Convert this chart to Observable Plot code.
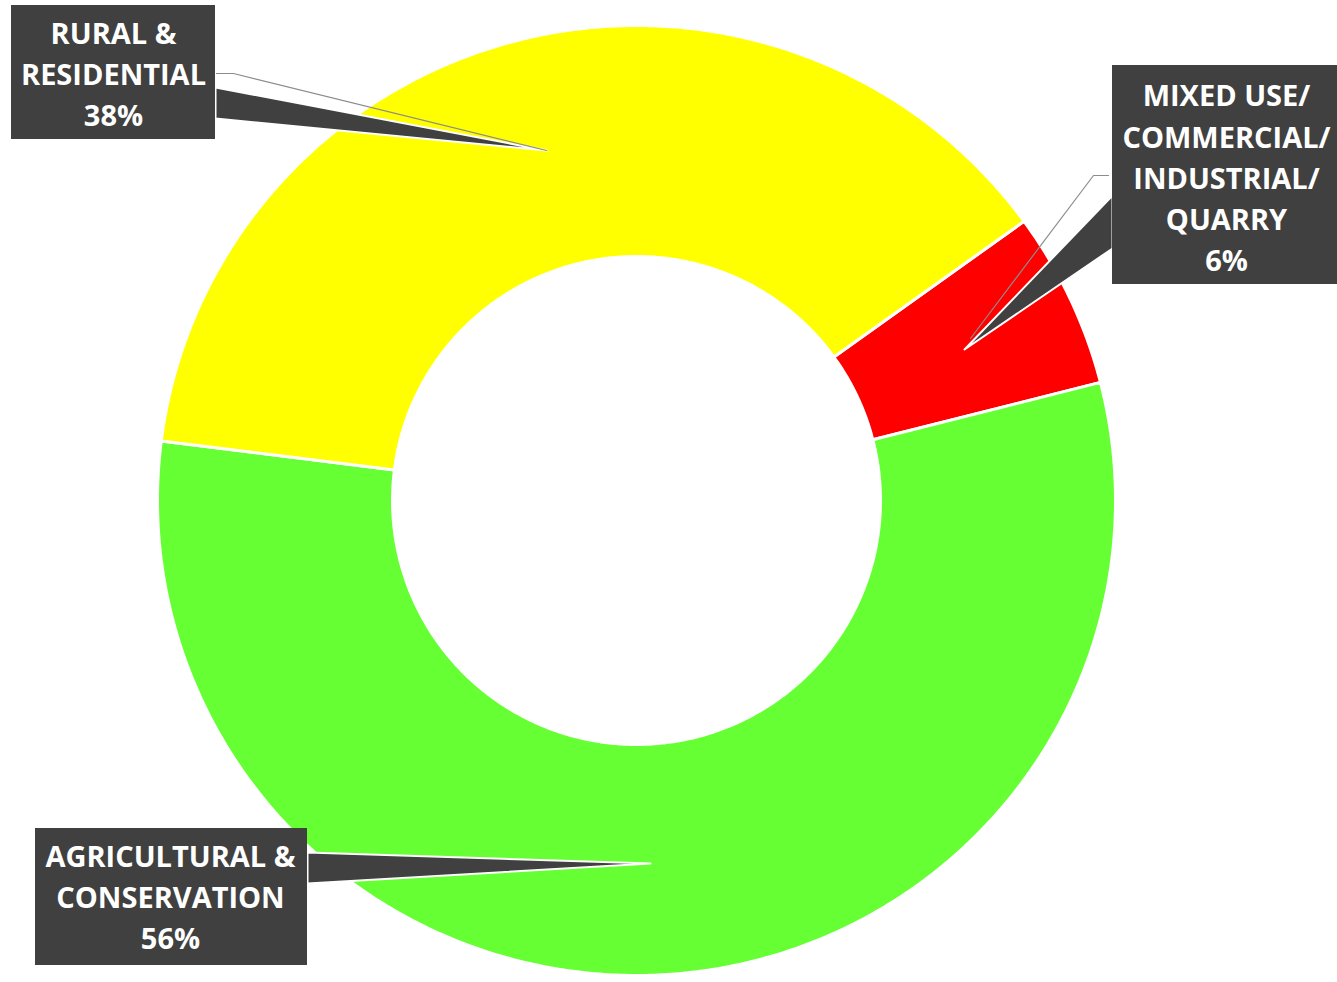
<!DOCTYPE html>
<html><head><meta charset="utf-8">
<script src="https://cdn.jsdelivr.net/npm/d3@7"></script>
<script src="https://cdn.jsdelivr.net/npm/@observablehq/plot@0.6"></script>
<style>body{margin:0;background:#fff;overflow:hidden}</style>
</head><body><div id="chart"></div>
<script>
// ---- data ----
const categories = ["MIXED USE/COMMERCIAL/INDUSTRIAL/QUARRY", "AGRICULTURAL & CONSERVATION", "RURAL & RESIDENTIAL"];
const values = [6, 56, 38];
const colors = ["#FF0000", "#66FF33", "#FFFF00"];
const labelLines = [["MIXED USE/", "COMMERCIAL/", "INDUSTRIAL/", "QUARRY"], ["AGRICULTURAL &", "CONSERVATION"], ["RURAL &", "RESIDENTIAL"]];
const percentLabels = ["6%", "56%", "38%"];

// ---- layout (pixels) ----
const W = 1337, H = 982;
const cx = 636, cy = 500, rxOuter = 479, ryOuter = 475, rInner = 244, startAngle = 54;
const boxes = [
  {x1: 1112, x2: 1337, y1: 65, y2: 284, tx: 1226, ty: 175},
  {x1: 35, x2: 307, y1: 828, y2: 965, tx: 170, ty: 894},
  {x1: 11, x2: 215, y1: 5, y2: 139, tx: 113, ty: 71}
];
const callouts = [
  [[1112, 195], [964, 349], [1112, 248]],
  [[307, 852], [650, 863], [307, 883]],
  [[215, 87], [546, 150], [215, 118]]
];
const leaders = [
  [[1108, 175], [1093, 175], [970, 338]],
  null,
  [[216, 73], [233, 73], [546, 150]]
];

// ---- build geometry ----
const total = d3.sum(values);
const pt = (rx, ry, a) => { const t = a * Math.PI / 180; return [cx + rx * Math.sin(t), cy - ry * Math.cos(t)]; };
const slicePts = [];
let a = startAngle;
values.forEach((v, i) => {
  const a0 = a, a1 = a + v / total * 360; a = a1;
  const n = Math.max(4, Math.ceil((a1 - a0) / 0.5));
  for (let k = 0; k <= n; k++) { const [x, y] = pt(rxOuter, ryOuter, a0 + (a1 - a0) * k / n); slicePts.push({cat: categories[i], x, y}); }
  for (let k = n; k >= 0; k--) { const [x, y] = pt(rInner, rInner, a0 + (a1 - a0) * k / n); slicePts.push({cat: categories[i], x, y}); }
});
const calloutPts = callouts.flatMap((c, i) => c.map(([x, y]) => ({id: i, x, y})));
const leaderPts = leaders.flatMap((c, i) => c ? c.map(([x, y]) => ({id: i, x, y})) : []);
const labelData = boxes.map((b, i) => ({x: b.tx, y: b.ty, text: [...labelLines[i], percentLabels[i]].join("\n")}));

const chart = Plot.plot({
  width: W, height: H, margin: 0,
  x: {domain: [0, W], axis: null},
  y: {domain: [0, H], range: [0, H], axis: null},
  color: {domain: categories, range: colors},
  marks: [
    Plot.line(slicePts, {x: "x", y: "y", z: "cat", fill: "cat", stroke: "white", strokeWidth: 3, curve: "linear-closed"}),
    Plot.line(calloutPts, {x: "x", y: "y", z: "id", fill: "#404040", stroke: "white", strokeWidth: 2, curve: "linear-closed"}),
    Plot.line(leaderPts, {x: "x", y: "y", z: "id", stroke: "#8c8c8c", strokeWidth: 1.2}),
    Plot.rect(boxes, {x1: "x1", x2: "x2", y1: "y1", y2: "y2", fill: "#404040"}),
    Plot.text(labelData, {x: "x", y: "y", text: "text", fill: "white", fontSize: 29, fontWeight: "bold", fontFamily: "Open Sans", lineHeight: 1.42})
  ]
});
document.getElementById("chart").appendChild(chart);
</script>
</body></html>
